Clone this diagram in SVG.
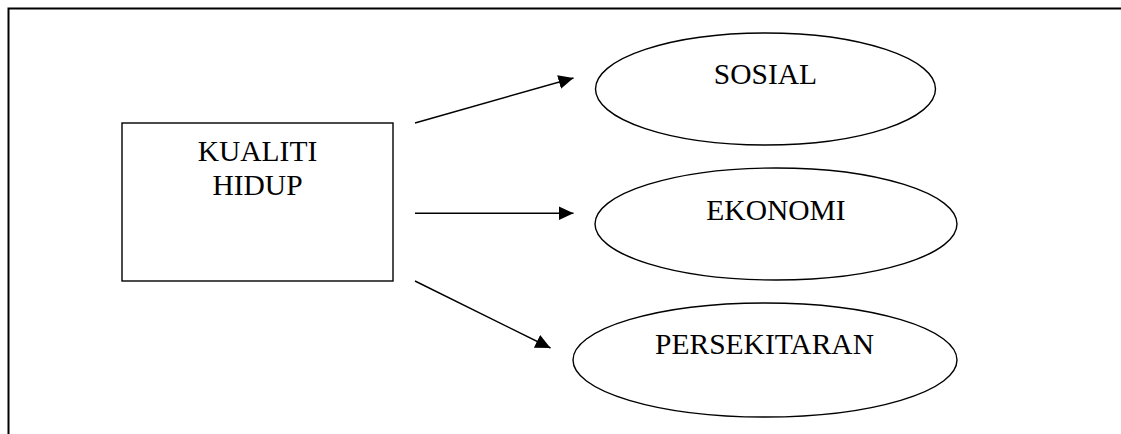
<svg xmlns="http://www.w3.org/2000/svg" width="1121" height="434" viewBox="0 0 1121 434">
<style>
.frame{fill:none;stroke:#000;stroke-width:2}
.shape{fill:#fff;stroke:#000;stroke-width:1.4}
.conn{fill:none;stroke:#000;stroke-width:1.4}
.lbl{font-family:"Liberation Serif","Times New Roman",serif;font-size:29.5px;fill:#000;text-anchor:middle}
</style>
<defs>
<marker id="arr" markerUnits="userSpaceOnUse" markerWidth="16" markerHeight="15" refX="15" refY="7" orient="auto">
<path d="M0,0 L15,7 L0,14 Z" fill="#000"/>
</marker>
</defs>
<rect width="1121" height="434" fill="#fff"/>
<path class="frame" d="M8.5,434 L8.5,8.5 L1121,8.5"/>
<g id="node-kualiti">
<rect class="shape" x="122" y="123" width="271" height="158"/>
<text class="lbl" x="257.5" y="161">KUALITI</text>
<text class="lbl" x="257.5" y="195">HIDUP</text>
</g>
<g id="node-sosial">
<ellipse class="shape" cx="765.5" cy="89" rx="170" ry="56"/>
<text class="lbl" x="765.5" y="84">SOSIAL</text>
</g>
<g id="node-ekonomi">
<ellipse class="shape" cx="776" cy="224" rx="181" ry="56"/>
<text class="lbl" x="776" y="220">EKONOMI</text>
</g>
<g id="node-persekitaran">
<ellipse class="shape" cx="765" cy="360" rx="192" ry="57"/>
<text class="lbl" x="764.5" y="354">PERSEKITARAN</text>
</g>
<g id="connectors">
<line class="conn" x1="415" y1="123" x2="573.5" y2="78" marker-end="url(#arr)"/>
<line class="conn" x1="415" y1="213.3" x2="573.5" y2="213.3" marker-end="url(#arr)"/>
<line class="conn" x1="415" y1="281" x2="550.5" y2="348" marker-end="url(#arr)"/>
</g>
</svg>
